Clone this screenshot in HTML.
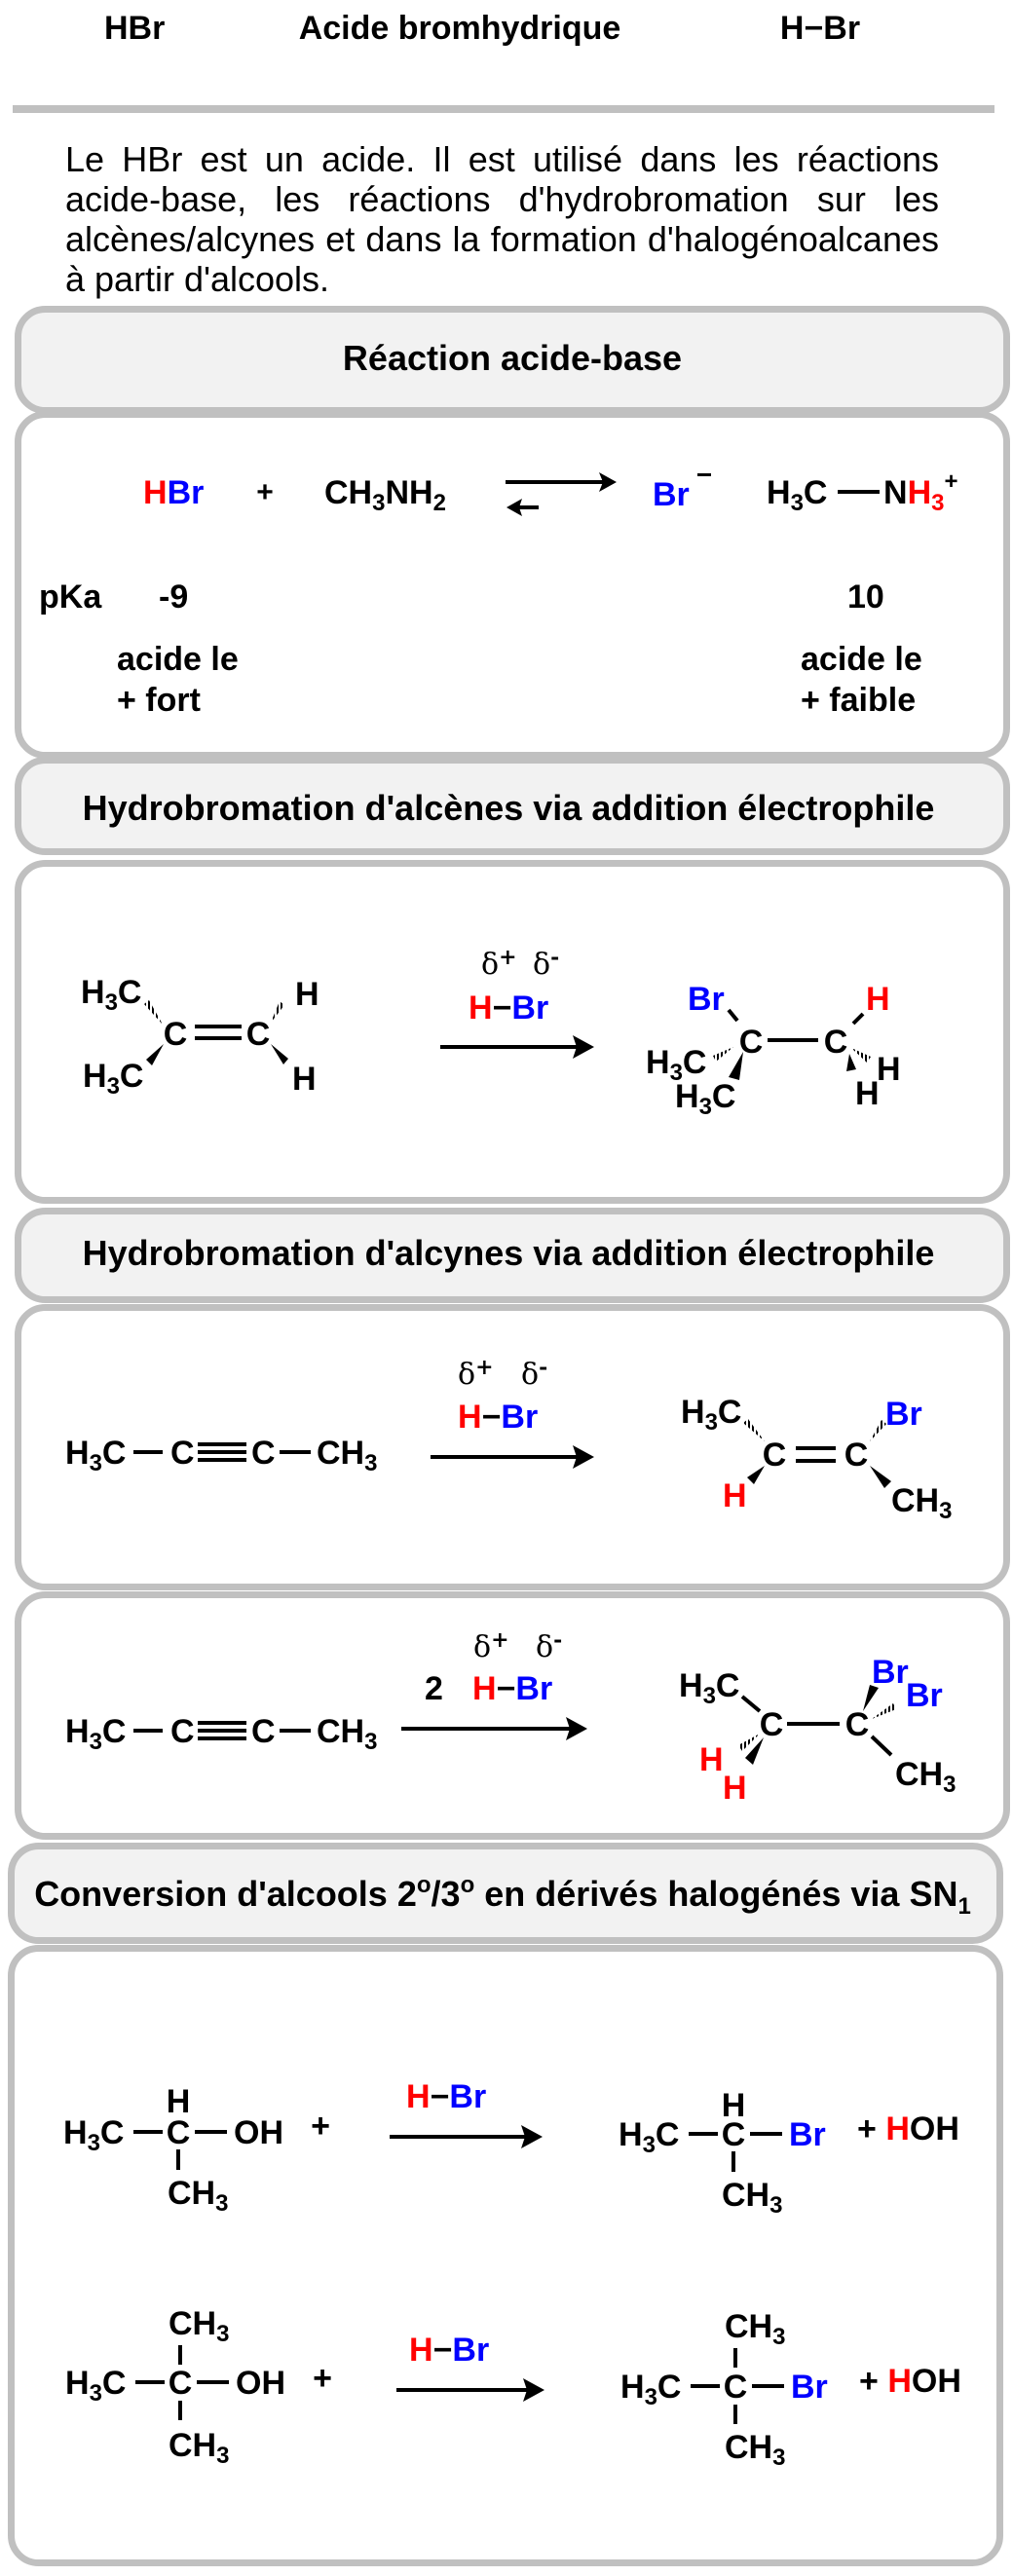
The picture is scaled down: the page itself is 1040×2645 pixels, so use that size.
<!DOCTYPE html>
<html><head><meta charset="utf-8"><style>
body{margin:0;width:1040px;height:2645px;background:#fff;position:relative;overflow:hidden;font-family:"Liberation Sans",Arial,sans-serif}
#p{position:absolute;left:67px;top:143px;width:897px;font-size:36px;line-height:41px;text-align:justify;text-align-last:left;color:#000}
svg{position:absolute;left:0;top:0}
</style></head><body>
<svg width="1040" height="2645" viewBox="0 0 1040 2645" font-family="Liberation Sans, Arial, sans-serif" font-weight="bold" font-size="34">
<defs>
<pattern id="h" width="4" height="4" patternUnits="userSpaceOnUse"><rect width="2" height="4" fill="#000"/></pattern>
</defs>
<g fill="none" stroke="#c0c0c0" stroke-width="7">
<rect x="18.5" y="317.5" width="1015" height="104" rx="28" fill="#f2f2f2"/>
<rect x="18.5" y="425.5" width="1015" height="350" rx="28" fill="#fff"/>
<rect x="18.5" y="780.5" width="1015" height="94" rx="28" fill="#f2f2f2"/>
<rect x="18.5" y="886.5" width="1015" height="346" rx="28" fill="#fff"/>
<rect x="18.5" y="1243.5" width="1015" height="91" rx="28" fill="#f2f2f2"/>
<rect x="18.5" y="1342.5" width="1015" height="287" rx="28" fill="#fff"/>
<rect x="18.5" y="1637.5" width="1015" height="248" rx="28" fill="#fff"/>
<rect x="11.5" y="1895.5" width="1015" height="97" rx="28" fill="#f2f2f2"/>
<rect x="11.5" y="2000.5" width="1015" height="631" rx="28" fill="#fff"/>
</g>
<rect x="13" y="108" width="1008" height="8" fill="#c0c0c0"/>
<!-- title row -->
<text x="107" y="40" font-size="34">HBr</text>
<text x="472" y="40" font-size="34" text-anchor="middle">Acide bromhydrique</text>
<text x="842" y="40" font-size="34" text-anchor="middle">H−Br</text>
<!-- headers -->
<text x="526" y="380" font-size="36" text-anchor="middle">Réaction acide-base</text>
<text x="522" y="842" font-size="36" text-anchor="middle">Hydrobromation d'alcènes via addition électrophile</text>
<text x="522" y="1299" font-size="36" text-anchor="middle">Hydrobromation d'alcynes via addition électrophile</text>
<text x="516" y="1957" font-size="36" text-anchor="middle">Conversion d'alcools 2<tspan font-size="24" dy="-14">o</tspan><tspan dy="14">/3</tspan><tspan font-size="24" dy="-14">o</tspan><tspan dy="14"> en dérivés halogénés via SN</tspan><tspan font-size="24" dy="8">1</tspan></text>
<!-- section 1 -->
<text x="147" y="517"><tspan fill="#f00">H</tspan><tspan fill="#00f">Br</tspan></text>
<text x="272" y="515" font-size="30" text-anchor="middle">+</text>
<text x="333" y="517">CH<tspan font-size="24" dy="7">3</tspan><tspan dy="-7">NH</tspan><tspan font-size="24" dy="7">2</tspan></text>
<g stroke="#000" stroke-width="4"><line x1="519" y1="495" x2="620" y2="495"/><line x1="533" y1="521" x2="553" y2="521"/><line x1="860" y1="505" x2="903" y2="505"/></g>
<polygon points="633,495 615,485 619,495 615,505"/>
<polygon points="520,521 536,512 533,521 536,530"/>
<text x="670" y="519" fill="#00f">Br</text>
<rect x="716" y="486" width="14" height="3"/>
<text x="787" y="517">H<tspan font-size="24" dy="7">3</tspan><tspan dy="-7">C</tspan></text>
<text x="907" y="517">N<tspan fill="#f00">H</tspan><tspan font-size="24" dy="7" fill="#f00">3</tspan><tspan font-size="24" dy="-22">+</tspan></text>
<text x="40" y="624">pKa</text>
<text x="163" y="624">-9</text>
<text x="870" y="624">10</text>
<text x="120" y="688">acide le</text>
<text x="120" y="730">+ fort</text>
<text x="822" y="688">acide le</text>
<text x="822" y="730">+ faible</text>
<!-- section 3 alkene -->
<text x="83" y="1030">H<tspan font-size="24" dy="7">3</tspan><tspan dy="-7">C</tspan></text>
<text x="85" y="1116">H<tspan font-size="24" dy="7">3</tspan><tspan dy="-7">C</tspan></text>
<text x="180" y="1073" text-anchor="middle">C</text>
<text x="265" y="1073" text-anchor="middle">C</text>
<text x="303" y="1032">H</text>
<text x="300" y="1119">H</text>
<g stroke="#000" stroke-width="4"><line x1="200" y1="1054" x2="248" y2="1054"/><line x1="200" y1="1066" x2="248" y2="1066"/></g>
<polygon points="167,1052 148,1031 153,1027" fill="url(#h)"/>
<polygon points="168,1072 150,1088 156,1094"/>
<polygon points="278,1050 292,1032 287,1028" fill="url(#h)"/>
<polygon points="278,1072 291,1093 296,1087"/>
<text x="494" y="1000" font-weight="normal" font-family="DejaVu Serif, serif" font-size="30">δ<tspan font-size="22" font-weight="bold" dy="-10">+</tspan></text>
<text x="547" y="1000" font-weight="normal" font-family="DejaVu Serif, serif" font-size="30">δ<tspan font-size="22" font-weight="bold" dy="-10">-</tspan></text>
<text x="481" y="1046"><tspan fill="#f00">H</tspan><tspan>−</tspan><tspan fill="#00f">Br</tspan></text>
<line x1="452" y1="1075" x2="595" y2="1075" stroke="#000" stroke-width="4"/>
<polygon points="610,1075 588,1063 592,1075 588,1087"/>
<text x="706" y="1037" fill="#00f">Br</text>
<text x="889" y="1037" fill="#f00">H</text>
<text x="771" y="1081" text-anchor="middle">C</text>
<text x="858" y="1081" text-anchor="middle">C</text>
<text x="663" y="1102">H<tspan font-size="24" dy="7">3</tspan><tspan dy="-7">C</tspan></text>
<text x="693" y="1137">H<tspan font-size="24" dy="7">3</tspan><tspan dy="-7">C</tspan></text>
<text x="900" y="1109">H</text>
<text x="878" y="1134">H</text>
<g stroke="#000" stroke-width="4"><line x1="748" y1="1037" x2="757" y2="1048"/><line x1="788" y1="1068" x2="840" y2="1068"/><line x1="876" y1="1051" x2="886" y2="1041"/></g>
<polygon points="753,1075 732,1084 735,1090" fill="url(#h)"/>
<polygon points="763,1080 748,1106 759,1109"/>
<polygon points="874,1076 890,1091 894,1085" fill="url(#h)"/>
<polygon points="872,1082 869,1100 879,1098"/>
<!-- section 4 -->
<text x="67" y="1503">H<tspan font-size="24" dy="7">3</tspan><tspan dy="-7">C</tspan></text>
<text x="175" y="1503">C</text>
<text x="258" y="1503">C</text>
<text x="325" y="1503">CH<tspan font-size="24" dy="7">3</tspan></text>
<g stroke="#000" stroke-width="4"><line x1="137" y1="1491" x2="167" y2="1491"/><line x1="203" y1="1483" x2="253" y2="1483"/><line x1="203" y1="1491" x2="253" y2="1491"/><line x1="203" y1="1499" x2="253" y2="1499"/><line x1="287" y1="1491" x2="319" y2="1491"/></g>
<text x="470" y="1421" font-weight="normal" font-family="DejaVu Serif, serif" font-size="30">δ<tspan font-size="22" font-weight="bold" dy="-10">+</tspan></text>
<text x="535" y="1421" font-weight="normal" font-family="DejaVu Serif, serif" font-size="30">δ<tspan font-size="22" font-weight="bold" dy="-10">-</tspan></text>
<text x="470" y="1466"><tspan fill="#f00">H</tspan><tspan>−</tspan><tspan fill="#00f">Br</tspan></text>
<line x1="442" y1="1496" x2="595" y2="1496" stroke="#000" stroke-width="4"/>
<polygon points="610,1496 588,1484 592,1496 588,1508"/>
<text x="699" y="1461">H<tspan font-size="24" dy="7">3</tspan><tspan dy="-7">C</tspan></text>
<text x="795" y="1505" text-anchor="middle">C</text>
<text x="879" y="1505" text-anchor="middle">C</text>
<text x="909" y="1463" fill="#00f">Br</text>
<text x="742" y="1547" fill="#f00">H</text>
<text x="915" y="1552">CH<tspan font-size="24" dy="7">3</tspan></text>
<g stroke="#000" stroke-width="4"><line x1="817" y1="1487" x2="858" y2="1487"/><line x1="817" y1="1500" x2="858" y2="1500"/></g>
<polygon points="785,1480 763,1461 768,1457" fill="url(#h)"/>
<polygon points="785,1505 767,1517 774,1524"/>
<polygon points="893,1480 910,1462 905,1458" fill="url(#h)"/>
<polygon points="893,1505 908,1528 915,1521"/>
<!-- section 5 -->
<text x="67" y="1789">H<tspan font-size="24" dy="7">3</tspan><tspan dy="-7">C</tspan></text>
<text x="175" y="1789">C</text>
<text x="258" y="1789">C</text>
<text x="325" y="1789">CH<tspan font-size="24" dy="7">3</tspan></text>
<g stroke="#000" stroke-width="4"><line x1="137" y1="1777" x2="167" y2="1777"/><line x1="203" y1="1769" x2="253" y2="1769"/><line x1="203" y1="1777" x2="253" y2="1777"/><line x1="203" y1="1785" x2="253" y2="1785"/><line x1="287" y1="1777" x2="319" y2="1777"/></g>
<text x="486" y="1701" font-weight="normal" font-family="DejaVu Serif, serif" font-size="30">δ<tspan font-size="22" font-weight="bold" dy="-10">+</tspan></text>
<text x="550" y="1701" font-weight="normal" font-family="DejaVu Serif, serif" font-size="30">δ<tspan font-size="22" font-weight="bold" dy="-10">-</tspan></text>
<text x="436" y="1745">2</text>
<text x="485" y="1745"><tspan fill="#f00">H</tspan><tspan>−</tspan><tspan fill="#00f">Br</tspan></text>
<line x1="412" y1="1775" x2="588" y2="1775" stroke="#000" stroke-width="4"/>
<polygon points="603,1775 581,1763 585,1775 581,1787"/>
<text x="697" y="1742">H<tspan font-size="24" dy="7">3</tspan><tspan dy="-7">C</tspan></text>
<text x="792" y="1782" text-anchor="middle">C</text>
<text x="880" y="1782" text-anchor="middle">C</text>
<text x="895" y="1728" fill="#00f">Br</text>
<text x="930" y="1752" fill="#00f">Br</text>
<text x="718" y="1818" fill="#f00">H</text>
<text x="742" y="1847" fill="#f00">H</text>
<text x="919" y="1833">CH<tspan font-size="24" dy="7">3</tspan></text>
<g stroke="#000" stroke-width="4"><line x1="762" y1="1742" x2="780" y2="1757"/><line x1="808" y1="1770" x2="862" y2="1770"/><line x1="895" y1="1783" x2="915" y2="1802"/></g>
<polygon points="780,1780 758,1792 762,1798" fill="url(#h)"/>
<polygon points="784,1784 765,1805 773,1812"/>
<polygon points="886,1757 893,1730 902,1733"/>
<polygon points="895,1765 917,1749 920,1755" fill="url(#h)"/>
<!-- section 9 row 1 -->
<text x="65" y="2201">H<tspan font-size="24" dy="7">3</tspan><tspan dy="-7">C</tspan></text>
<text x="183" y="2201" text-anchor="middle">C</text>
<text x="183" y="2169" text-anchor="middle">H</text>
<text x="240" y="2201">OH</text>
<text x="172" y="2263">CH<tspan font-size="24" dy="7">3</tspan></text>
<g stroke="#000" stroke-width="4"><line x1="137" y1="2189" x2="167" y2="2189"/><line x1="200" y1="2189" x2="233" y2="2189"/><line x1="183" y1="2207" x2="183" y2="2228"/></g>
<text x="329" y="2194" text-anchor="middle">+</text>
<text x="417" y="2164"><tspan fill="#f00">H</tspan><tspan>−</tspan><tspan fill="#00f">Br</tspan></text>
<line x1="400" y1="2194" x2="542" y2="2194" stroke="#000" stroke-width="4"/>
<polygon points="557,2194 535,2182 539,2194 535,2206"/>
<text x="635" y="2203">H<tspan font-size="24" dy="7">3</tspan><tspan dy="-7">C</tspan></text>
<text x="753" y="2203" text-anchor="middle">C</text>
<text x="753" y="2173" text-anchor="middle">H</text>
<text x="810" y="2203" fill="#00f">Br</text>
<text x="741" y="2265">CH<tspan font-size="24" dy="7">3</tspan></text>
<g stroke="#000" stroke-width="4"><line x1="707" y1="2191" x2="737" y2="2191"/><line x1="770" y1="2191" x2="803" y2="2191"/><line x1="753" y1="2209" x2="753" y2="2230"/></g>
<text x="880" y="2197">+ <tspan fill="#f00">H</tspan>OH</text>
<!-- row 2 -->
<text x="173" y="2397">CH<tspan font-size="24" dy="7">3</tspan></text>
<text x="67" y="2458">H<tspan font-size="24" dy="7">3</tspan><tspan dy="-7">C</tspan></text>
<text x="185" y="2458" text-anchor="middle">C</text>
<text x="242" y="2458">OH</text>
<text x="173" y="2522">CH<tspan font-size="24" dy="7">3</tspan></text>
<g stroke="#000" stroke-width="4"><line x1="139" y1="2446" x2="169" y2="2446"/><line x1="202" y1="2446" x2="235" y2="2446"/><line x1="185" y1="2408" x2="185" y2="2428"/><line x1="185" y1="2465" x2="185" y2="2485"/></g>
<text x="331" y="2453" text-anchor="middle">+</text>
<text x="420" y="2424"><tspan fill="#f00">H</tspan><tspan>−</tspan><tspan fill="#00f">Br</tspan></text>
<line x1="407" y1="2454" x2="544" y2="2454" stroke="#000" stroke-width="4"/>
<polygon points="559,2454 537,2442 541,2454 537,2466"/>
<text x="744" y="2400">CH<tspan font-size="24" dy="7">3</tspan></text>
<text x="637" y="2462">H<tspan font-size="24" dy="7">3</tspan><tspan dy="-7">C</tspan></text>
<text x="755" y="2462" text-anchor="middle">C</text>
<text x="812" y="2462" fill="#00f">Br</text>
<text x="744" y="2524">CH<tspan font-size="24" dy="7">3</tspan></text>
<g stroke="#000" stroke-width="4"><line x1="709" y1="2450" x2="739" y2="2450"/><line x1="772" y1="2450" x2="805" y2="2450"/><line x1="755" y1="2411" x2="755" y2="2431"/><line x1="755" y1="2469" x2="755" y2="2489"/></g>
<text x="882" y="2456">+ <tspan fill="#f00">H</tspan>OH</text>
</svg>
<div id="p">Le HBr est un acide. Il est utilisé dans les réactions <span style="white-space:nowrap">acide-base,</span> les réactions d'hydrobromation sur les alcènes/alcynes et dans la formation d'halogénoalcanes à partir d'alcools.</div>
</body></html>
